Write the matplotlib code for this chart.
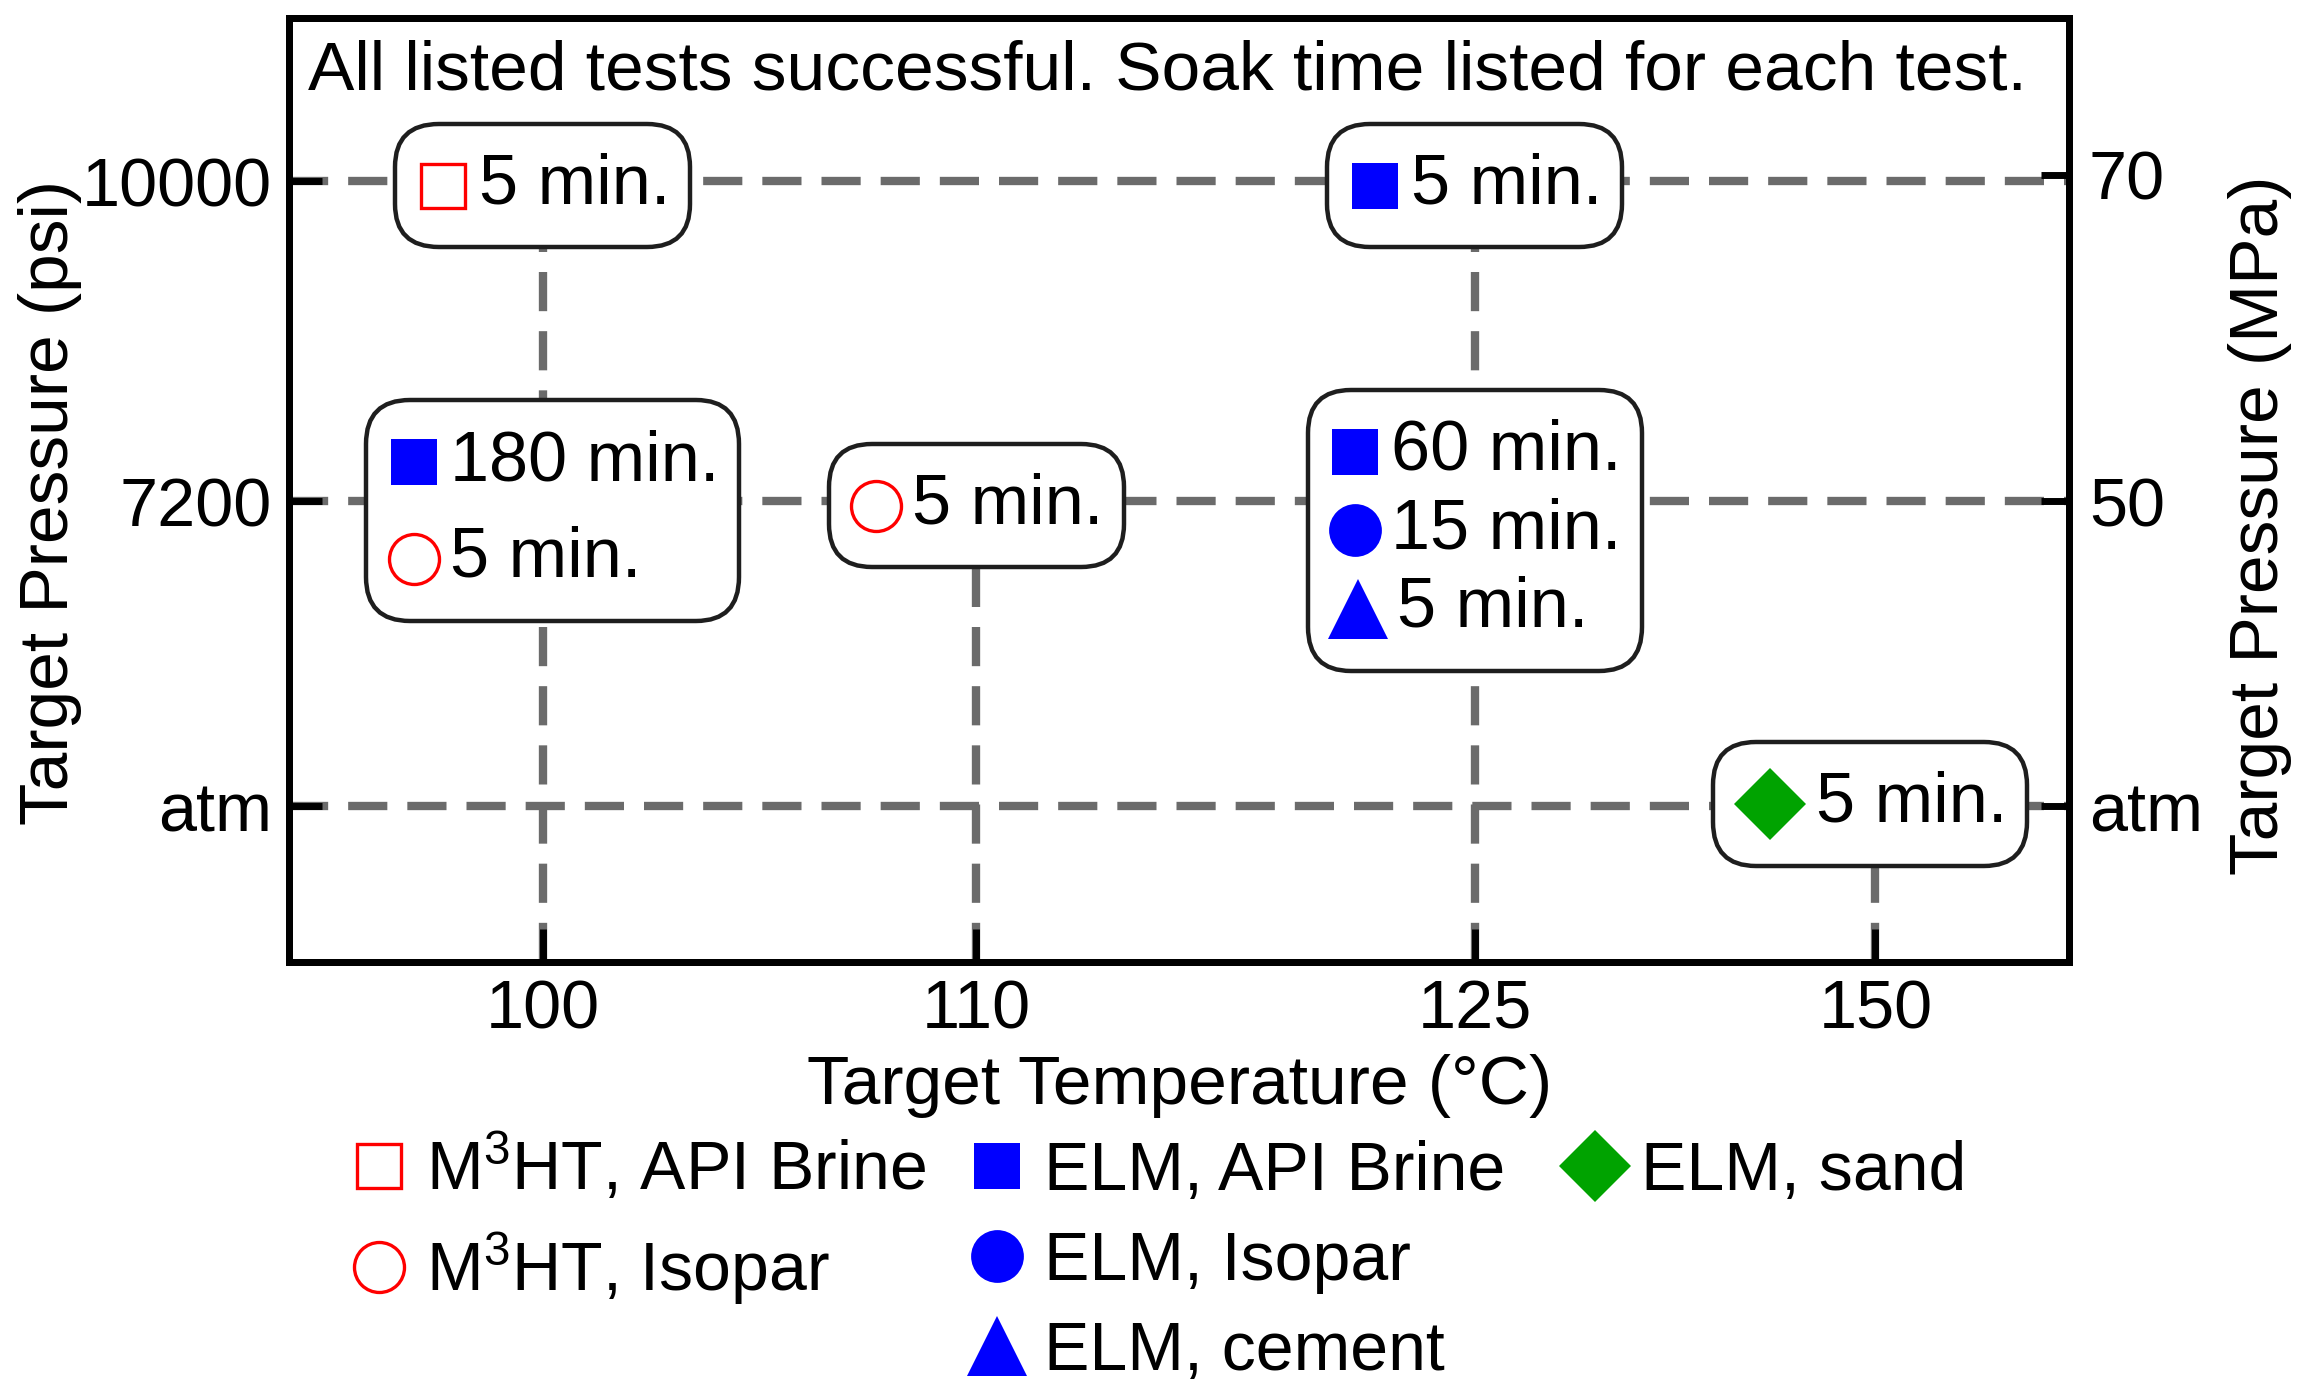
import matplotlib
matplotlib.use('Agg')
import matplotlib.pyplot as plt
from matplotlib.lines import Line2D
from matplotlib.offsetbox import AnnotationBbox, DrawingArea, HPacker, TextArea, VPacker

plt.rcParams['font.family'] = ['Liberation Sans', 'DejaVu Sans']
plt.rcParams['mathtext.fontset'] = 'custom'
plt.rcParams['mathtext.rm'] = 'Liberation Sans'
plt.rcParams['font.size'] = 24

# categories on each axis
temp_labels = ['100', '110', '125', '150']
psi_labels = ['atm', '7200', '10000']
mpa_labels = ['atm', '50', '70']

# one entry per test (temperature, pressure, material/fluid, soak time in min)
test_temp = ['100', '125', '100', '100', '110', '125', '125', '125', '150']
test_psi = ['10000', '10000', '7200', '7200', '7200', '7200', '7200', '7200', 'atm']
test_series = ['m3ht_brine', 'elm_brine', 'elm_brine', 'm3ht_isopar', 'm3ht_isopar',
               'elm_brine', 'elm_isopar', 'elm_cement', 'elm_sand']
test_soak = [5, 5, 180, 5, 5, 60, 15, 5, 5]

series_labels = {
    'm3ht_brine': r'$\mathregular{M^{3}HT}$, API Brine',
    'm3ht_isopar': r'$\mathregular{M^{3}HT}$, Isopar',
    'elm_brine': 'ELM, API Brine ',
    'elm_isopar': 'ELM, Isopar',
    'elm_cement': 'ELM, cement',
    'elm_sand': 'ELM, sand',
}
legend_order = ['m3ht_brine', 'm3ht_isopar', None,
                'elm_brine', 'elm_isopar', 'elm_cement',
                'elm_sand', None, None]

# layout: where each category sits along the axes (axes fraction)
x_slot = {'100': 0.1426, '110': 0.386, '125': 0.666, '150': 0.891}
y_slot = {'atm': 0.165, '7200': 0.488, '10000': 0.827}
mpa_slot = [0.165, 0.488, 0.834]
# box tweaks per (temperature, pressure): anchor and row gap
box_anchor = {('125', '7200'): (0.5, 0.62), ('150', 'atm'): (0.52, 0.47),
              ('100', '7200'): (0.47, 0.55)}
box_row_sep = {('100', '7200'): 11, ('125', '7200'): 4.5}

RED = '#ff0000'
BLUE = '#0000ff'
GREEN = '#00a300'
GRID = '#6b6b6b'
style = {
    'm3ht_brine': dict(marker='s', markersize=16, markerfacecolor='white', markeredgecolor=RED, markeredgewidth=1.2),
    'm3ht_isopar': dict(marker='o', markersize=18, markerfacecolor='white', markeredgecolor=RED, markeredgewidth=1.2),
    'elm_brine': dict(marker='s', markersize=16.5, markerfacecolor=BLUE, markeredgecolor=BLUE, markeredgewidth=0),
    'elm_isopar': dict(marker='o', markersize=19, markerfacecolor=BLUE, markeredgecolor=BLUE, markeredgewidth=0),
    'elm_cement': dict(marker='^', markersize=21.5, markerfacecolor=BLUE, markeredgecolor=BLUE, markeredgewidth=0),
    'elm_sand': dict(marker='D', markersize=18.3, markerfacecolor=GREEN, markeredgecolor=GREEN, markeredgewidth=0),
}
marker_slot_w = {'elm_sand': 27, 'elm_cement': 22}

fig = plt.figure(figsize=(11.51, 6.965), dpi=200)
ax = fig.add_axes([0.1255, 0.3094, 0.7735, 0.6776])
ax.set_xlim(0, 1)
ax.set_ylim(0, 1)

dash = (0, (4.7, 2.4))
# horizontal guide at every pressure level
for p in psi_labels:
    ax.axhline(y_slot[p], color=GRID, lw=3, linestyle=dash, zorder=1)
# vertical guide up to the highest test at each temperature
for t in temp_labels:
    tops = [y_slot[p] for tt, p in zip(test_temp, test_psi) if tt == t]
    ax.plot([x_slot[t], x_slot[t]], [0, max(tops)], color=GRID, lw=3, linestyle=dash, zorder=1)

# group tests into one rounded box per (temperature, pressure)
groups = {}
for t, p, s, m in zip(test_temp, test_psi, test_series, test_soak):
    groups.setdefault((t, p), []).append((s, m))

for (t, p), rows in groups.items():
    packed = []
    for s, m in rows:
        w = marker_slot_w.get(s, 20)
        da = DrawingArea(w, 20, 0, 0)
        da.add_artist(Line2D([w / 2], [10], linestyle='none', **style[s]))
        ta = TextArea(f'{m} min.', textprops=dict(fontsize=25.3))
        packed.append(HPacker(children=[da, ta], align='center', pad=0, sep=3))
    inner = VPacker(children=packed, align='left', pad=0, sep=box_row_sep.get((t, p), 8))
    box = VPacker(children=[DrawingArea(0, 3.2), inner, DrawingArea(0, 3.2)],
                  align='left', pad=0, sep=0)
    ab = AnnotationBbox(box, (x_slot[t], y_slot[p]), xycoords='data', frameon=True,
                        box_alignment=box_anchor.get((t, p), (0.5, 0.55)),
                        fontsize=24, zorder=4,
                        bboxprops=dict(boxstyle='round,pad=0.3,rounding_size=0.65',
                                       ec='#1e1e1e', lw=1.6, fc='white'))
    ax.add_artist(ab)

ax.text(0.011, 0.943, 'All listed tests successful. Soak time listed for each test.',
        transform=ax.transAxes, ha='left', va='center', fontsize=25)

ax.set_xticks([x_slot[t] for t in temp_labels])
ax.set_xticklabels(temp_labels)
ax.set_yticks([y_slot[p] for p in psi_labels])
ax.set_yticklabels(psi_labels)
ax.tick_params(direction='in', length=12, width=2.5, labelsize=24.6, pad=6)
ax.set_xlabel('Target Temperature (°C)', fontsize=25, labelpad=4)
ax.set_ylabel('Target Pressure (psi)', fontsize=25, labelpad=0)
ax.yaxis.label.set_y(0.487)
for sp in ax.spines.values():
    sp.set_linewidth(2.5)

ax2 = ax.twinx()
ax2.set_ylim(0, 1)
ax2.set_yticks(mpa_slot)
ax2.set_yticklabels(mpa_labels)
ax2.tick_params(direction='in', length=10, width=2.5, labelsize=24.6, pad=7)
ax2.set_ylabel('Target Pressure (MPa)', fontsize=25, labelpad=9)
ax2.yaxis.label.set_y(0.463)
for sp in ax2.spines.values():
    sp.set_linewidth(2.5)

handles, labels = [], []
for s in legend_order:
    if s is None:
        handles.append(Line2D([], [], linestyle='none', marker='none'))
        labels.append('')
    else:
        handles.append(Line2D([], [], linestyle='none', **style[s]))
        labels.append(series_labels[s])
fig.legend(handles, labels, ncol=3, loc='upper left', bbox_to_anchor=(0.150, 0.187),
           frameon=False, fontsize=24.5, handlelength=1.0, handletextpad=0.18,
           columnspacing=0.55, labelspacing=0.38, borderpad=0, borderaxespad=0)

fig.savefig('out.png', dpi=200)
